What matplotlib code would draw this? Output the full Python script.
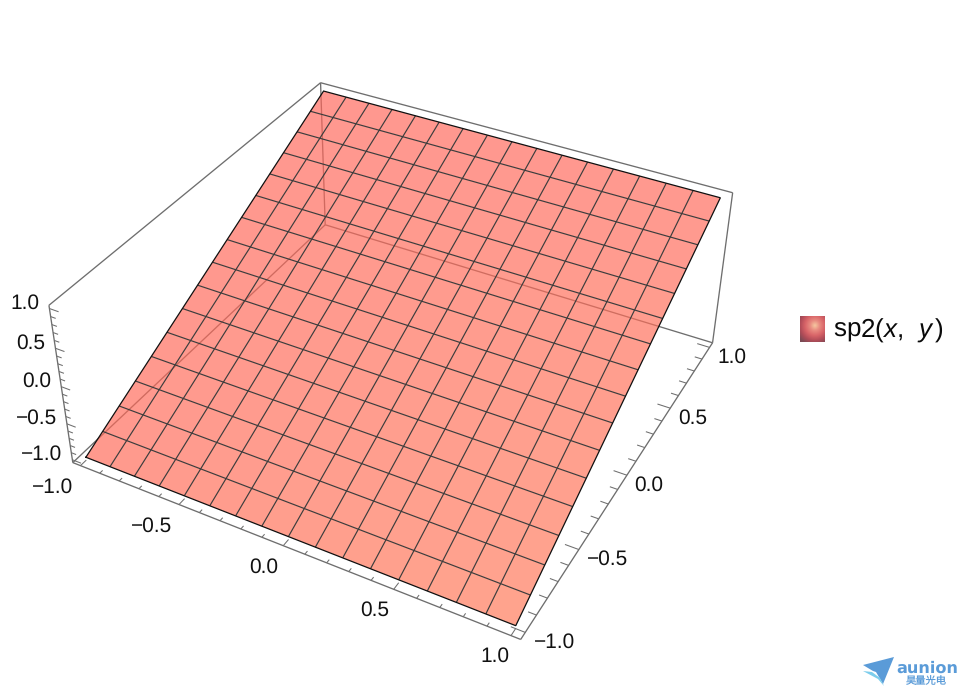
import numpy as np
import matplotlib
matplotlib.use('Agg')
import matplotlib.pyplot as plt
from matplotlib.collections import PolyCollection, LineCollection
from matplotlib.colors import LinearSegmentedColormap

plt.rcParams['font.family'] = ['Liberation Sans', 'DejaVu Sans']
plt.rcParams['mathtext.fontset'] = 'custom'
plt.rcParams['mathtext.rm'] = 'Liberation Sans'
plt.rcParams['mathtext.it'] = 'Liberation Sans:italic'
plt.rcParams['text.hinting'] = 'none'

# surface samples, 16 x 16 cells
x_mesh = [-1.0, -0.875, -0.75, -0.625, -0.5, -0.375, -0.25, -0.125, 0.0, 0.125, 0.25, 0.375, 0.5, 0.625, 0.75, 0.875, 1.0]
y_mesh = [-1.0, -0.875, -0.75, -0.625, -0.5, -0.375, -0.25, -0.125, 0.0, 0.125, 0.25, 0.375, 0.5, 0.625, 0.75, 0.875, 1.0]
sp2_by_y = [-1.0, -0.875, -0.75, -0.625, -0.5, -0.375, -0.25, -0.125, 0.0, 0.125, 0.25, 0.375, 0.5, 0.625, 0.75, 0.875, 1.0]

major_ticks = [-1.0, -0.5, 0.0, 0.5, 1.0]
minor_ticks = [-0.9, -0.8, -0.7, -0.6, -0.4, -0.3, -0.2, -0.1, 0.1, 0.2, 0.3, 0.4, 0.6, 0.7, 0.8, 0.9]
tick_labels = ['\u22121.0', '\u22120.5', '0.0', '0.5', '1.0']

BOX = 1.04

# camera fitted on where the box and surface corners sit in the picture
calib_3d = [(-BOX, BOX, BOX), (BOX, BOX, BOX), (-BOX, -BOX, BOX), (-BOX, -BOX, -BOX),
            (BOX, -BOX, -BOX), (BOX, BOX, -BOX), (-BOX, BOX, -BOX),
            (-1, -1, -1), (1, -1, -1), (1, 1, 1), (-1, 1, 1)]
calib_px = [(321, 84), (733, 192), (48, 303), (73, 464),
            (521, 639), (712, 345), (325, 221),
            (87, 459), (515, 625), (721, 197), (323, 93)]


def fit_camera(pts, px):
    rows = []
    rhs = []
    for (X, Y, Z), (u, v) in zip(pts, px):
        rows.append([X, Y, Z, 1, 0, 0, 0, 0, -u*X, -u*Y, -u*Z])
        rows.append([0, 0, 0, 0, X, Y, Z, 1, -v*X, -v*Y, -v*Z])
        rhs += [u, v]
    sol = np.linalg.lstsq(np.array(rows, float), np.array(rhs, float), rcond=None)[0]
    return np.append(sol, 1).reshape(3, 4)


CAM = fit_camera(calib_3d, calib_px)


def proj(x, y, z):
    h = CAM @ np.array([x, y, z, 1.0])
    return h[0]/h[2], h[1]/h[2]


def seg(a, b):
    return [proj(*a), proj(*b)]


fig = plt.figure(figsize=(9.71, 6.97), dpi=100)
ax = fig.add_axes([0, 0, 1, 1])
ax.set_xlim(0, 971)
ax.set_ylim(697, 0)
ax.axis('off')

# back edges of the box
B = BOX
box_edges = [
    seg((-B, B, B), (B, B, B)), seg((-B, B, B), (-B, -B, B)), seg((-B, -B, B), (-B, -B, -B)),
    seg((-B, -B, -B), (B, -B, -B)), seg((B, -B, -B), (B, B, -B)), seg((B, B, -B), (B, B, B)),
    seg((-B, B, B), (-B, B, -B)), seg((-B, B, -B), (-B, -B, -B)), seg((-B, B, -B), (B, B, -B)),
]
ax.add_collection(LineCollection(box_edges, colors='#6e6e6e', linewidths=0.95, zorder=1))

# ticks
tick_segs = []
for ticks, xl, yl, zl in [(major_ticks, 0.04, 0.06, 0.045), (minor_ticks, 0.02, 0.035, 0.025)]:
    for t in ticks:
        tick_segs.append(seg((t, -B, -B), (t, -B + xl, -B)))
        tick_segs.append(seg((B, t, -B), (B - yl, t, -B)))
        tick_segs.append(seg((-B, -B, t), (-B + zl, -B, t)))
ax.add_collection(LineCollection(tick_segs, colors='#6e6e6e', linewidths=0.75, zorder=1))

# surface cells, see-through so the back edges show
polys = []
cols = []
alpha = 0.68
for j in range(len(y_mesh) - 1):
    for i in range(len(x_mesh) - 1):
        polys.append([proj(x_mesh[i], y_mesh[j], sp2_by_y[j]),
                      proj(x_mesh[i+1], y_mesh[j], sp2_by_y[j]),
                      proj(x_mesh[i+1], y_mesh[j+1], sp2_by_y[j+1]),
                      proj(x_mesh[i], y_mesh[j+1], sp2_by_y[j+1])])
        u = (x_mesh[i] + x_mesh[i+1] + 2) / 4
        v = (y_mesh[j] + y_mesh[j+1] + 2) / 4
        g = 153 + 11*u*(1 - v) - 2*v*(1 - u)
        b = 141 + 2*v
        target = np.array([255, g, b]) / 255
        cols.append(tuple((target - (1 - alpha)) / alpha) + (alpha,))
ax.add_collection(PolyCollection(polys, facecolors=cols, edgecolors='none', zorder=2))

# mesh lines
mesh = []
for j, y in enumerate(y_mesh):
    if 0 < j < len(y_mesh) - 1:
        mesh.append([proj(x, y, sp2_by_y[j]) for x in (x_mesh[0], x_mesh[-1])])
for x in x_mesh[1:-1]:
    mesh.append([proj(x, y_mesh[0], sp2_by_y[0]), proj(x, y_mesh[-1], sp2_by_y[-1])])
ax.add_collection(LineCollection(mesh, colors='#3c3c3c', linewidths=0.85, zorder=3))

# outline
outline = [proj(x_mesh[0], y_mesh[0], sp2_by_y[0]), proj(x_mesh[-1], y_mesh[0], sp2_by_y[0]),
           proj(x_mesh[-1], y_mesh[-1], sp2_by_y[-1]), proj(x_mesh[0], y_mesh[-1], sp2_by_y[-1]),
           proj(x_mesh[0], y_mesh[0], sp2_by_y[0])]
ax.plot(*zip(*outline), color='#101010', lw=0.9, zorder=4, solid_joinstyle='miter')

# tick labels
FS = 15
x_off = [(-28, -22), (-27, -22), (-20, -22), (-19, -21), (-16, -21)]
y_off = [(29, -10), (29, -10), (22, -10), (22, -10), (22, -10)]
for t, lab, o1, o2 in zip(major_ticks, tick_labels, x_off, y_off):
    ax.annotate(lab, proj(t, -B, -B), xytext=o1, textcoords='offset pixels',
                ha='center', va='center', fontsize=FS, color='#111111')
    ax.annotate(lab, proj(B, t, -B), xytext=o2, textcoords='offset pixels',
                ha='center', va='center', fontsize=FS, color='#111111')
    ax.annotate(lab, proj(-B, -B, t), xytext=(-10, 5), textcoords='offset pixels',
                ha='right', va='center', fontsize=FS, color='#111111')

# legend
sx, sy = np.meshgrid(np.linspace(0, 1, 50), np.linspace(0, 1, 50))
r = np.hypot(sx - 0.6, sy - 0.36)
cmap = LinearSegmentedColormap.from_list('swatch', ['#f6c8a0', '#e88a80', '#d86468', '#b04c58', '#7a4a54'])
ax.imshow(r, cmap=cmap, vmin=0, vmax=0.8, extent=(800, 825, 342, 316), aspect='auto', zorder=2)
ax.set_xlim(0, 971)
ax.set_ylim(697, 0)
ax.text(833, 331, r'sp2($\mathit{x}$,  $\mathit{y}\,$)', fontsize=18.7, ha='left', va='center', color='#0a0a0a')

# logo
ax.fill([863, 894, 883, 876, 873], [665, 657, 684, 672, 671], color='#5a9bd8', lw=0, zorder=2)
ax.fill([863, 872, 880, 884, 878], [671, 672, 678, 686, 679], color='#7ccdec', lw=0, zorder=2)
ax.text(896, 668, 'aunion', family=['DejaVu Sans'], fontweight='bold', fontsize=11.6, color='#5a9bd8',
        ha='left', va='center')
ax.text(926.5, 681, '昊量光电', family=['Noto Sans CJK SC', 'DejaVu Sans'], fontsize=7.4, color='#5a9bd8',
        ha='center', va='center')

plt.savefig('out.png', dpi=100)
plt.close()
